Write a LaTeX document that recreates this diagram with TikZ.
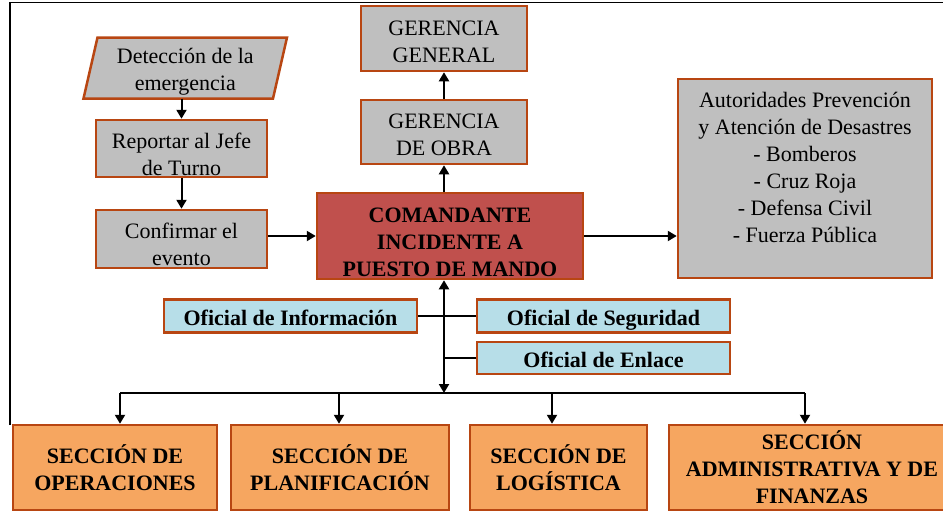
\documentclass[tikz,border=0pt]{standalone}
\usepackage{fontspec}
\setmainfont{Liberation Serif}
\usetikzlibrary{arrows.meta}
\definecolor{bord}{RGB}{184,70,18}
\definecolor{grayf}{RGB}{191,191,191}
\definecolor{redf}{RGB}{192,80,77}
\definecolor{bluef}{RGB}{183,222,232}
\definecolor{orf}{RGB}{246,166,96}
\begin{document}
\begin{tikzpicture}[x=1pt,y=-1pt,
  box/.style={draw=bord, line width=2.5pt, inner sep=0pt},
  graybox/.style={box, fill=grayf},
  redbox/.style={box, fill=redf},
  bluebox/.style={box, fill=bluef, minimum width=253, minimum height=33,
     font=\fontsize{22}{27}\selectfont\bfseries, text height=19pt, text depth=1pt},
  secbox/.style={box, fill=orf, minimum height=85, align=center,
     font=\fontsize{22}{27}\selectfont\bfseries},
  txt/.style={align=center, font=\fontsize{22}{27}\selectfont, inner sep=0pt},
  btxt/.style={align=center, font=\fontsize{22}{27}\selectfont\bfseries, inner sep=0pt},
  arr/.style={line width=2pt, -{Triangle[length=9pt,width=10pt]}},
  dbl/.style={line width=2pt, {Triangle[length=9pt,width=10pt]}-{Triangle[length=9pt,width=10pt]}},
  ln/.style={line width=2pt}]
\useasboundingbox (0,0) rectangle (943,512);
% frame
\draw[line width=1.6pt] (10,425) -- (10,2.5) -- (943,2.5);
% left chain
\filldraw[draw=bord, fill=grayf, line width=2.5pt, line join=miter]
  (97.5,37.5) -- (287,37.5) -- (273,98.5) -- (83.5,98.5) -- cycle;
\node[inner sep=0pt, minimum width=190, minimum height=61] (det) at (185.3,68) {};
\node[txt] (dett) at ([yshift=-4pt]det.center) {Detección de la\\emergencia};
\node[graybox, minimum width=171, minimum height=57] (rep) at (181.5,148.5) {};
\node[txt] (rept) at ([yshift=-6pt]rep.center) {Reportar al Jefe\\de Turno};
\node[graybox, minimum width=171, minimum height=58] (conf) at (181.5,239) {};
\node[txt] (conft) at ([yshift=-5.5pt]conf.center) {Confirmar el\\evento};
% center column
\node[graybox, minimum width=166, minimum height=65] (gg) at (444,38.5) {};
\node[txt] (ggt) at ([yshift=-3pt]gg.center) {GERENCIA\\GENERAL};
\node[graybox, minimum width=166, minimum height=64] (go) at (444,132) {};
\node[txt] (got) at ([yshift=-2.7pt]go.center) {GERENCIA\\DE OBRA};
\node[redbox, minimum width=266, minimum height=86] (com) at (450,236) {};
\node[btxt] (comt) at ([yshift=-6.7pt]com.center) {COMANDANTE\\INCIDENTE A\\PUESTO DE MANDO};
% authorities
\node[graybox, minimum width=254, minimum height=199] (aut) at (805,178.5) {};
\node[txt] (autt) at ([yshift=11pt]aut.center) {Autoridades Prevención\\y Atención de Desastres\\- Bomberos\\- Cruz Roja\\- Defensa Civil\\- Fuerza Pública};
% officers
\node[bluebox] (info) at (290.5,316) {Oficial de Información};
\node[bluebox] (seg) at (603.5,316) {Oficial de Seguridad};
\node[bluebox, minimum height=32] (enl) at (603.5,358) {Oficial de Enlace};
% sections
\node[secbox, minimum width=204] (op) at (115,467.5) {SECCIÓN DE\\OPERACIONES};
\node[secbox, minimum width=218] (pl) at (340,467.5) {SECCIÓN DE\\PLANIFICACIÓN};
\node[secbox, minimum width=177] (lg) at (558.5,467.5) {SECCIÓN DE\\LOGÍSTICA};
\node[secbox, minimum width=286] (adm) at (812,467.5) {SECCIÓN\\ADMINISTRATIVA Y DE\\FINANZAS};
% connectors
\draw[arr] (det.south -| rep.north) -- (rep.north);
\draw[arr] (rep.south) -- (conf.north);
\draw[arr] (conf.east |- com.west) -- (com.west);
\draw[arr] (com.north -| go.south) -- (go.south);
\draw[arr] (go.north) -- (gg.south);
\draw[arr] (com.east) -- (aut.west |- com.east);
\coordinate (bus) at (444,393);
\draw[dbl] (bus) -- (bus |- com.south);
\draw[ln] (info.east) -- (seg.west);
\draw[ln] (enl.west) -- (enl.west -| bus);
\draw[ln] ([xshift=5pt]op.north |- bus) -- ([xshift=-7pt]adm.north |- bus);
\draw[arr] ([xshift=5pt]op.north |- bus) -- ([xshift=5pt]op.north);
\draw[arr] ([xshift=-1pt]pl.north |- bus) -- ([xshift=-1pt]pl.north);
\draw[arr] ([xshift=-6.5pt]lg.north |- bus) -- ([xshift=-6.5pt]lg.north);
\draw[arr] ([xshift=-7pt]adm.north |- bus) -- ([xshift=-7pt]adm.north);
\end{tikzpicture}
\end{document}
